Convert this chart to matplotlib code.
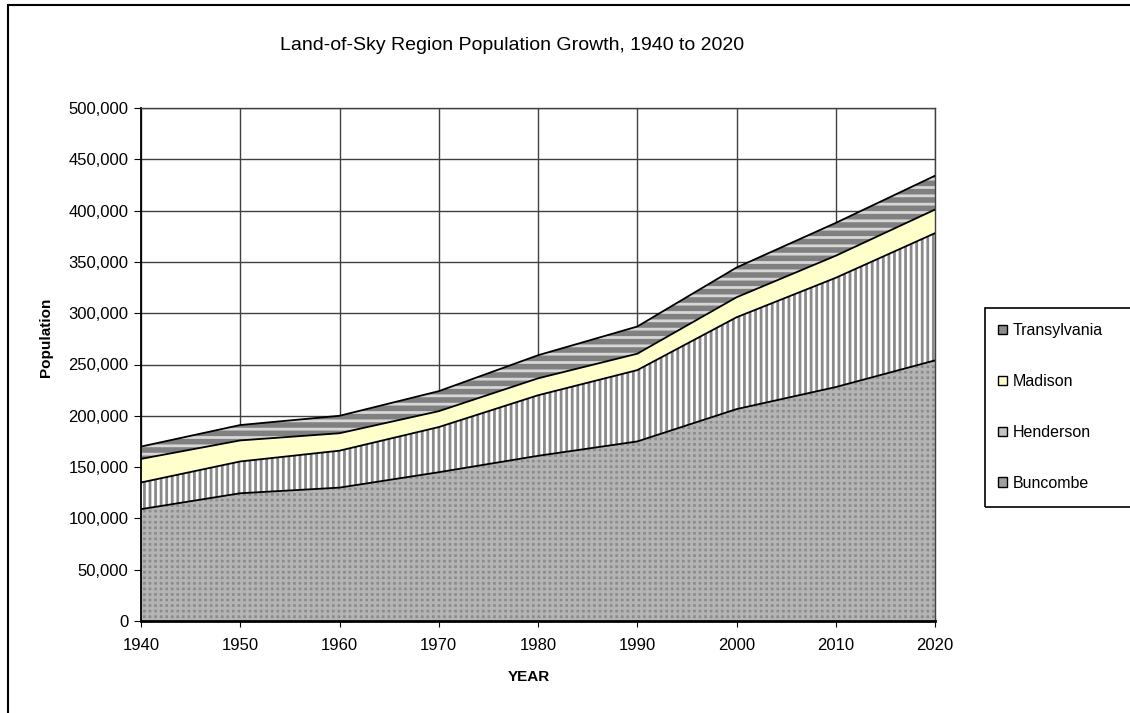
import matplotlib.pyplot as plt
import numpy as np
from matplotlib.patches import Patch, Rectangle
from matplotlib.ticker import FuncFormatter

plt.rcParams["font.family"] = ["Liberation Sans", "DejaVu Sans"]
plt.rcParams["hatch.linewidth"] = 2.0

years = [1940, 1950, 1960, 1970, 1980, 1990, 2000, 2010, 2020]
buncombe = [109000, 124500, 130000, 145000, 161000, 175000, 206500, 228000, 254000]
henderson = [26000, 31000, 36000, 44000, 59000, 69500, 89500, 106500, 124000]
madison = [23000, 20500, 17000, 15500, 16500, 16000, 19500, 21500, 23000]
transylvania = [12000, 15000, 17000, 19500, 22500, 26500, 29000, 32000, 33000]

series_names = ["Buncombe", "Henderson", "Madison", "Transylvania"]
# face, hatch colour, hatch, legend swatch colour
styles = {
    "Buncombe": ("#8c8c8c", "#b4b4b4", "+++", "#a0a0a0"),
    "Henderson": ("#8a8a8a", "#ffffff", "|||", "#c4c4c4"),
    "Madison": ("#ffffcc", None, None, "#ffffcc"),
    "Transylvania": ("#808080", "#d6d6d6", "--", "#8c8c8c"),
}

fig = plt.figure(figsize=(11.3, 7.13), dpi=100)
ax = fig.add_axes([141 / 1130, 1 - 621 / 713, (935 - 141) / 1130, (621 - 108) / 713])

x = np.array(years)
base = np.zeros(len(years))
for name, vals in zip(series_names, [buncombe, henderson, madison, transylvania]):
    top = base + np.array(vals)
    face, hcol, hatch, _ = styles[name]
    if hatch:
        ax.fill_between(x, base, top, facecolor=face, edgecolor=hcol, hatch=hatch,
                        linewidth=0, zorder=2)
    else:
        ax.fill_between(x, base, top, facecolor=face, linewidth=0, zorder=2)
    ax.plot(x, top, color="black", lw=1.3, zorder=3)
    base = top

ax.set_xlim(1940, 2020)
ax.set_ylim(0, 500000)
ax.set_xticks(years)
ax.set_yticks(np.arange(0, 500001, 50000))
ax.yaxis.set_major_formatter(FuncFormatter(lambda v, p: f"{int(v):,}"))
ax.grid(True, color="#404040", lw=1.0, zorder=0)
ax.set_axisbelow(True)
ax.spines["top"].set_color("#404040")
ax.spines["top"].set_linewidth(1.0)
ax.spines["right"].set_color("#404040")
ax.spines["right"].set_linewidth(1.0)
ax.spines["left"].set_linewidth(1.3)
ax.spines["bottom"].set_linewidth(2)
ax.tick_params(axis="y", direction="out", length=5, labelsize=12, pad=4)
ax.tick_params(axis="x", direction="inout", length=9, labelsize=12, pad=8)

ax.set_xlabel("YEAR", fontsize=11, fontweight="bold")
ax.set_ylabel("Population", fontsize=11, fontweight="bold")
ax.xaxis.set_label_coords((529 - 141) / 794, -(670 - 621) / 513)
ax.yaxis.set_label_coords(-(141 - 53) / 794, (621 - 337) / 513)
fig.text(512 / 1130, 1 - 45 / 713, "Land-of-Sky Region Population Growth, 1940 to 2020",
         ha="center", va="center", fontsize=14)

# outer chart border (cut off at right and bottom)
fig.patches.append(Rectangle((8 / 1130, -0.2), 1.2, 1.2 - 5 / 713, transform=fig.transFigure,
                             fill=False, edgecolor="black", lw=1.5))
# legend box
fig.patches.append(Rectangle((985 / 1130, 1 - 507 / 713), 0.3, (507 - 308) / 713,
                             transform=fig.transFigure, fill=False, edgecolor="black", lw=1.2))

handles = []
for name in reversed(series_names):
    swatch = styles[name][3]
    handles.append(Patch(facecolor=swatch, edgecolor="black", label=name, lw=1))
fig.legend(handles=handles, loc="center left", bbox_to_anchor=(984 / 1130, 1 - 407 / 713),
           frameon=False, fontsize=11.5, handlelength=0.55, handleheight=0.55,
           handletextpad=0.35, labelspacing=2.25)

fig.savefig("out.png", dpi=100)
